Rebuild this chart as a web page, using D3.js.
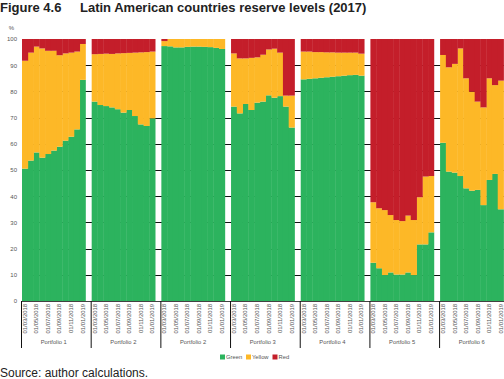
<!DOCTYPE html>
<html><head><meta charset="utf-8">
<script src="https://cdn.jsdelivr.net/npm/d3@7"></script>
<style>
html,body{margin:0;padding:0;background:#fff;}
svg{display:block;font-family:"Liberation Sans",Arial,sans-serif;}
</style></head>
<body>
<script>
// ---- data ----
const portfolios = ["Portfolio 1","Portfolio 2","Portfolio 2","Portfolio 3","Portfolio 4","Portfolio 5","Portfolio 6"];
const months = ["01/03/2018","01/04/2018","01/05/2018","01/06/2018","01/07/2018","01/08/2018","01/09/2018","01/10/2018","01/11/2018","01/12/2018","01/01/2019"];
const tickMonths = ["01/03/2018","01/05/2018","01/07/2018","01/09/2018","01/11/2018","01/01/2019"];
const yTicks = [0,10,20,30,40,50,60,70,80,90,100];
const seriesNames = ["Green","Yellow","Red"];
const seriesColors = ["#2cb35e","#fdb827","#c41e2a"];

const green = [
  [50.5,53.6,56.7,54.7,56.1,57.4,58.9,61.2,62.7,65.5,84.4],
  [76.1,74.8,74.4,73.9,73.2,71.9,72.9,70.6,67.4,66.8,69.7],
  [97.3,97.2,96.8,96.8,97.0,97.1,97.1,97.0,96.9,96.6,96.2],
  [74.2,71.6,75.2,72.9,75.7,76.1,78.5,77.6,78.2,74.2,66.2],
  [84.6,84.8,85.0,85.2,85.4,85.6,85.8,86.0,86.2,86.3,86.0],
  [14.6,12.5,9.9,10.9,10.1,10.1,10.9,9.9,21.6,21.6,26.2],
  [60.4,49.4,49.0,47.7,43.0,42.1,42.4,36.6,46.2,48.5,35.0]
];
const yellow = [
  [41.2,41.2,40.4,41.7,39.4,38.1,34.9,33.3,32.1,29.7,13.7],
  [18.1,19.5,20.0,20.4,21.3,22.7,21.8,24.2,27.5,28.2,25.5],
  [1.9,2.8,3.2,3.2,3.0,2.9,2.9,3.0,3.1,3.4,3.8],
  [20.3,21.0,17.4,19.9,17.3,17.9,17.5,18.7,16.6,4.2,12.2],
  [10.6,10.4,10.0,9.8,9.5,9.3,9.0,8.8,8.6,8.5,8.4],
  [23.1,22.9,24.8,21.9,20.8,20.4,21.7,21.0,18.0,25.9,21.5],
  [33.5,39.8,41.5,48.7,42.0,37.8,33.7,37.3,38.8,33.9,49.1]
];
const red = [
  [8.3,5.2,2.9,3.6,4.5,4.5,6.2,5.5,5.2,4.8,1.9],
  [5.8,5.7,5.6,5.7,5.5,5.4,5.3,5.2,5.1,5.0,4.8],
  [0.8,0,0,0,0,0,0,0,0,0,0],
  [5.5,7.4,7.4,7.2,7.0,6.0,4.0,3.7,5.2,21.6,21.6],
  [4.8,4.8,5.0,5.0,5.1,5.1,5.2,5.2,5.2,5.2,5.6],
  [62.3,64.6,65.3,67.2,69.1,69.5,67.4,69.1,60.4,52.5,52.3],
  [6.1,10.8,9.5,3.6,15.0,20.1,23.9,26.1,15.0,17.6,15.9]
];

// ---- layout ----
const W = 504, H = 379;
const svg = d3.select("body").append("svg").attr("width", W).attr("height", H);

const x0 = d3.scaleBand().domain(d3.range(portfolios.length)).range([22, 503.5]).paddingInner(0.09).paddingOuter(0);
const x1 = d3.scaleBand().domain(months).range([0, x0.bandwidth()]).padding(0);
const y = d3.scaleLinear().domain([0, 100]).range([301, 39]);

// title
svg.append("text").attr("x", 0).attr("y", 12).attr("font-size", 13).attr("font-weight", "bold").attr("fill", "#222").text("Figure 4.6");
svg.append("text").attr("x", 80).attr("y", 12).attr("font-size", 13).attr("font-weight", "bold").attr("fill", "#222").text("Latin American countries reserve levels (2017)");

// gridlines (visible in gaps)
svg.append("g").selectAll("line").data(yTicks.filter(d => d > 0 && d < 100)).join("line")
  .attr("x1", 22).attr("x2", W).attr("y1", d => Math.round(y(d)) + 0.5).attr("y2", d => Math.round(y(d)) + 0.5)
  .attr("stroke", "#111").attr("stroke-width", 1);

// y axis labels
const yAxis = d3.axisLeft(y).tickValues(yTicks).tickSize(0).tickPadding(0);
const ga = svg.append("g").attr("transform", "translate(17,0)").call(yAxis);
ga.select(".domain").remove();
ga.selectAll("text").attr("font-size", 6).attr("fill", "#555").attr("font-family", "Liberation Sans, Arial, sans-serif");
svg.append("text").attr("x", 11.5).attr("y", 30).attr("font-size", 6).attr("fill", "#555").attr("text-anchor", "middle").text("%");

// stacked bars
const stack = d3.stack().keys([0, 1, 2]);
portfolios.forEach((p, pi) => {
  const rows = months.map((m, mi) => ({ month: m, 0: green[pi][mi], 1: yellow[pi][mi], 2: red[pi][mi] }));
  const series = stack(rows);
  const g = svg.append("g").attr("transform", `translate(${x0(pi)},0)`);
  g.selectAll("g").data(series).join("g").attr("fill", (d, i) => seriesColors[i])
    .selectAll("rect").data(d => d).join("rect")
    .attr("x", d => x1(d.data.month))
    .attr("width", x1.bandwidth() + 0.4)
    .attr("y", d => y(d[1]))
    .attr("height", d => Math.max(0, y(d[0]) - y(d[1])));

  // x axis labels
  const xa = g.append("g").attr("transform", "translate(0,301)");
  xa.selectAll("text").data(tickMonths).join("text")
    .attr("transform", d => `translate(${x1(d) + x1.bandwidth() / 2 + 2},3) rotate(-90)`)
    .attr("text-anchor", "end").attr("font-size", 5.9).attr("fill", "#555").text(d => d);
  xa.append("text").attr("x", x0.bandwidth() / 2).attr("y", 42.5).attr("text-anchor", "middle")
    .attr("font-size", 5.8).attr("fill", "#555").text(p);
  xa.append("line").attr("x1", -0.5).attr("x2", -0.5).attr("y1", 0).attr("y2", 47).attr("stroke", "#111").attr("stroke-width", 1);
});

// x axis baseline
svg.append("line").attr("x1", 22).attr("x2", W).attr("y1", 301.5).attr("y2", 301.5).attr("stroke", "#111").attr("stroke-width", 0.8);

// legend
const legItems = [{x: 220}, {x: 246}, {x: 272.5}];
seriesNames.forEach((n, i) => {
  svg.append("rect").attr("x", legItems[i].x).attr("y", 354.5).attr("width", 5).attr("height", 5).attr("fill", seriesColors[i]);
  svg.append("text").attr("x", legItems[i].x + 6).attr("y", 359.3).attr("font-size", 5.8).attr("fill", "#555").text(n);
});

// source
svg.append("text").attr("x", 0).attr("y", 377).attr("font-size", 12).attr("fill", "#222").text("Source: author calculations.");
</script>
</body></html>
